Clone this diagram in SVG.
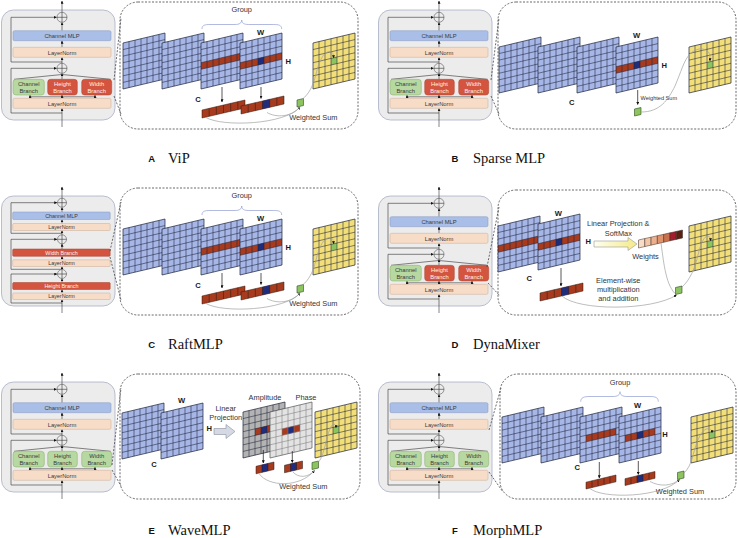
<svg xmlns="http://www.w3.org/2000/svg" xmlns:xlink="http://www.w3.org/1999/xlink" width="738" height="538" viewBox="0 0 738 538">
<style>
.gb{fill:#ececec;stroke:#a9aec6;stroke-width:0.8}
.ln{fill:none;stroke:#333;stroke-width:0.6}
.op{fill:#ececec;stroke:#555;stroke-width:0.6}
.mlp{fill:#a9bfe7;stroke:#8797bd;stroke-width:0.5}
.lno{fill:#f7dcc7;stroke:#c8ac95;stroke-width:0.5}
.gbr{fill:#b7d8a0;stroke:#86ad6b;stroke-width:0.5}
.rbr{fill:#d4553f;stroke:#a9402d;stroke-width:0.5}
.bt{font-family:"Liberation Sans",Arial,sans-serif;font-size:5.8px;fill:#3a3a3a;text-anchor:middle}
.bts{font-size:5.4px}
.w{fill:#fff0ea}
.dash{fill:none;stroke:#444;stroke-width:0.8;stroke-dasharray:2 1.5}
.fb{fill:#a6b6e6}
.fy{fill:#f3df7a}
.fr{fill:#a83a1e}
.fn{fill:#1f2d7b}
.fg{fill:#8cc460}
.gs{fill:#8cc460;stroke:#2f4a1f;stroke-width:0.6}
.fa{fill:#b3b3b3}
.fp{fill:#e3e3e3}
.gln{fill:none;stroke:#1d2238;stroke-width:0.55}
.glg{fill:none;stroke:#7a7a7a;stroke-width:0.55}
.ol{fill:none;stroke:#1d2238;stroke-width:0.7}
.olg{fill:none;stroke:#555;stroke-width:0.7}
.bk{stroke:#2a1a10;stroke-width:0.5}
.cv{fill:none;stroke:#a0a0a0;stroke-width:0.7}
.ar{fill:none;stroke:#111;stroke-width:0.7}
.pt{font-family:"Liberation Sans",Arial,sans-serif;font-size:7.4px;fill:#333;text-anchor:middle}
.lb{font-family:"Liberation Sans",Arial,sans-serif;font-size:7.6px;font-weight:bold;fill:#1a1a1a;text-anchor:middle}
.br{fill:none;stroke:#9ea8d8;stroke-width:0.8}
.cl{font-family:"Liberation Sans",Arial,sans-serif;font-size:9.5px;font-weight:bold;fill:#111;text-anchor:middle}
.cn{font-family:"Liberation Serif","Times New Roman",serif;font-size:14.5px;fill:#111}
</style>
<defs>
<marker id="ah" viewBox="0 0 6 6" refX="5.5" refY="3" markerWidth="3" markerHeight="3" orient="auto" markerUnits="userSpaceOnUse"><path d="M0,0L6,3L0,6z" fill="#111"/></marker>
<linearGradient id="ya" x1="0" y1="0" x2="1" y2="0"><stop offset="0" stop-color="#fffef2"/><stop offset="1" stop-color="#f5ea86"/></linearGradient>
<polygon id="pl" points="0,10 42,0 42,46 0,56"/>
<path id="gr" d="M6,8.57V54.57M12,7.14V53.14M18,5.71V51.71M24,4.29V50.29M30,2.86V48.86M36,1.43V47.43M0,16.57L42,6.57M0,23.14L42,13.14M0,29.71L42,19.71M0,36.29L42,26.29M0,42.86L42,32.86M0,49.43L42,39.43"/>
<polygon id="st" points="0,29.71 42,19.71 42,26.29 0,36.29"/>
<polygon id="st5" points="6,28.29 36,21.14 36,27.71 6,34.86"/>
<polygon id="st3" points="12,26.86 30,22.57 30,29.14 12,33.43"/>
<polygon id="cc" points="18,25.43 24,24 24,30.57 18,32"/>
<g id="pB"><use href="#pl" class="fb"/><use href="#gr" class="gln"/><use href="#pl" class="ol"/></g>
<g id="pBs"><use href="#pl" class="fb"/><use href="#st" class="fr"/><use href="#gr" class="gln"/><use href="#pl" class="ol"/></g>
<g id="pBsc"><use href="#pl" class="fb"/><use href="#st" class="fr"/><use href="#cc" class="fn"/><use href="#gr" class="gln"/><use href="#pl" class="ol"/></g>
<g id="pBm"><use href="#pl" class="fb"/><use href="#st5" class="fr"/><use href="#gr" class="gln"/><use href="#pl" class="ol"/></g>
<g id="pBmc"><use href="#pl" class="fb"/><use href="#st5" class="fr"/><use href="#cc" class="fn"/><use href="#gr" class="gln"/><use href="#pl" class="ol"/></g>
<g id="pY"><use href="#pl" class="fy"/><use href="#cc" class="fg"/><use href="#gr" class="gln"/><use href="#pl" class="ol"/></g>
<g id="pA"><use href="#pl" class="fa"/><use href="#st3" class="fr"/><use href="#cc" class="fn"/><use href="#gr" class="gln"/><use href="#pl" class="ol"/></g>
<g id="pP"><use href="#pl" class="fp"/><use href="#st3" class="fr"/><use href="#cc" class="fn"/><use href="#gr" class="glg"/><use href="#pl" class="olg"/></g>
<g id="bar6"><polygon class="fr bk" points="0,10 43,0 43,8 0,18"/><path class="bk" d="M7.17,8.33V16.33M14.33,6.67V14.67M21.5,5V13M28.67,3.33V11.33M35.83,1.67V9.67"/></g>
<g id="bar6c"><polygon class="fr bk" points="0,10 43,0 43,8 0,18"/><polygon class="fn" points="21.5,5 28.67,3.33 28.67,11.33 21.5,13"/><path class="bk" d="M7.17,8.33V16.33M14.33,6.67V14.67M21.5,5V13M28.67,3.33V11.33M35.83,1.67V9.67"/></g>
<g id="bar5"><polygon class="fr bk" points="0,7.2 30,0 30,6.8 0,14"/><path class="bk" d="M6,5.76V12.56M12,4.32V11.12M18,2.88V9.68M24,1.44V8.24"/></g>
<g id="bar5c"><polygon class="fr bk" points="0,7.2 30,0 30,6.8 0,14"/><polygon class="fn" points="12,4.32 18,2.88 18,9.68 12,11.12"/><path class="bk" d="M6,5.76V12.56M12,4.32V11.12M18,2.88V9.68M24,1.44V8.24"/></g>
<g id="bar3"><polygon class="fr bk" points="0,4.3 18,0 18,7.5 0,11.8"/><polygon class="fn" points="6,2.87 12,1.43 12,8.93 6,10.37"/><path class="bk" d="M6,2.87V10.37M12,1.43V8.93"/></g>
<polygon id="gsq" points="0,1.5 6.5,0 6.5,7 0,8.5"/>
</defs>
<rect width="738" height="538" fill="#ffffff"/>

<!-- ============ BLOCKS ============ -->
<g id="blockA">
<rect class="gb" x="1.5" y="10" width="113.5" height="110" rx="12"/>
<path class="ln" d="M62,62H11V17.3H56.5" marker-end="url(#ah)"/>
<path class="ln" d="M62,113H11V68.3H56.5" marker-end="url(#ah)"/>
<path class="ln" d="M62,12.3V1" marker-end="url(#ah)"/>
<path class="ln" d="M62,30.7V22.5" marker-end="url(#ah)"/>
<path class="ln" d="M62,47.3V40.9" marker-end="url(#ah)"/>
<path class="ln" d="M62,63.3V57.5" marker-end="url(#ah)"/>
<path class="ln" d="M62,79.3V73.5" marker-end="url(#ah)"/>
<path class="ln" d="M14,79.3L62,74.5L110.7,79.3"/>
<path class="ln" d="M62,127V108.5" marker-end="url(#ah)"/>
<path class="ln" d="M30,96.8L95,96.8"/>
<path class="ln" d="M30,98.3V95.2" marker-end="url(#ah)"/>
<path class="ln" d="M62,98.3V95.2" marker-end="url(#ah)"/>
<path class="ln" d="M95,98.3V95.2" marker-end="url(#ah)"/>
<circle class="op" cx="62" cy="17.3" r="5"/><path class="ln" d="M57,17.3H67M62,12.3V22.3"/>
<circle class="op" cx="62" cy="68.3" r="5"/><path class="ln" d="M57,68.3H67M62,63.3V73.3"/>
<rect class="mlp" x="13" y="30.7" width="98" height="10" rx="1.5"/><text class="bt" x="62" y="37.9">Channel MLP</text>
<rect class="lno" x="13" y="47.3" width="98" height="10" rx="1.5"/><text class="bt" x="62" y="54.5">LayerNorm</text>
<rect class="gbr" x="13" y="79.3" width="31.3" height="15.7" rx="3"/><text class="bt" x="28.7" y="86">Channel</text><text class="bt" x="28.7" y="92.8">Branch</text>
<rect class="rbr" x="47.7" y="79.3" width="29.6" height="15.7" rx="3"/><text class="bt w" x="62.5" y="86">Height</text><text class="bt w" x="62.5" y="92.8">Branch</text>
<rect class="rbr" x="81.7" y="79.3" width="30" height="15.7" rx="3"/><text class="bt w" x="96.7" y="86">Width</text><text class="bt w" x="96.7" y="92.8">Branch</text>
<rect class="lno" x="13" y="98.3" width="98" height="10" rx="1.5"/><text class="bt" x="62" y="105.5">LayerNorm</text>
</g>

<g id="blockB" transform="translate(377,0)">
<rect class="gb" x="1.5" y="10" width="113.5" height="110" rx="12"/>
<path class="ln" d="M62,62H11V17.3H56.5" marker-end="url(#ah)"/>
<path class="ln" d="M62,113H11V68.3H56.5" marker-end="url(#ah)"/>
<path class="ln" d="M62,12.3V1" marker-end="url(#ah)"/>
<path class="ln" d="M62,30.7V22.5" marker-end="url(#ah)"/>
<path class="ln" d="M62,47.3V40.9" marker-end="url(#ah)"/>
<path class="ln" d="M62,63.3V57.5" marker-end="url(#ah)"/>
<path class="ln" d="M62,79.3V73.5" marker-end="url(#ah)"/>
<path class="ln" d="M14,79.3L62,74.5L110.7,79.3"/>
<path class="ln" d="M62,127V108.5" marker-end="url(#ah)"/>
<path class="ln" d="M30,96.8L95,96.8"/>
<path class="ln" d="M30,98.3V95.2" marker-end="url(#ah)"/>
<path class="ln" d="M62,98.3V95.2" marker-end="url(#ah)"/>
<path class="ln" d="M95,98.3V95.2" marker-end="url(#ah)"/>
<circle class="op" cx="62" cy="17.3" r="5"/><path class="ln" d="M57,17.3H67M62,12.3V22.3"/>
<circle class="op" cx="62" cy="68.3" r="5"/><path class="ln" d="M57,68.3H67M62,63.3V73.3"/>
<rect class="mlp" x="13" y="30.7" width="98" height="10" rx="1.5"/><text class="bt" x="62" y="37.9">Channel MLP</text>
<rect class="lno" x="13" y="47.3" width="98" height="10" rx="1.5"/><text class="bt" x="62" y="54.5">LayerNorm</text>
<rect class="gbr" x="13" y="79.3" width="31.3" height="15.7" rx="3"/><text class="bt" x="28.7" y="86">Channel</text><text class="bt" x="28.7" y="92.8">Branch</text>
<rect class="rbr" x="47.7" y="79.3" width="29.6" height="15.7" rx="3"/><text class="bt w" x="62.5" y="86">Height</text><text class="bt w" x="62.5" y="92.8">Branch</text>
<rect class="rbr" x="81.7" y="79.3" width="30" height="15.7" rx="3"/><text class="bt w" x="96.7" y="86">Width</text><text class="bt w" x="96.7" y="92.8">Branch</text>
<rect class="lno" x="13" y="98.3" width="98" height="10" rx="1.5"/><text class="bt" x="62" y="105.5">LayerNorm</text>
</g>

<g id="blockC" transform="translate(0,186)">
<rect class="gb" x="1.5" y="10" width="113.5" height="110" rx="12"/>
<path class="ln" d="M62,47.3H11V16.7H57" marker-end="url(#ah)"/>
<path class="ln" d="M62,83.3H11V53.3H57" marker-end="url(#ah)"/>
<path class="ln" d="M62,117H11V88H57" marker-end="url(#ah)"/>
<path class="ln" d="M62,12.2V1" marker-end="url(#ah)"/>
<path class="ln" d="M62,26V21.4" marker-end="url(#ah)"/>
<path class="ln" d="M62,37.5V33.7" marker-end="url(#ah)"/>
<path class="ln" d="M62,48.8V44.7" marker-end="url(#ah)"/>
<path class="ln" d="M62,63V58" marker-end="url(#ah)"/>
<path class="ln" d="M62,73.8V70.5" marker-end="url(#ah)"/>
<path class="ln" d="M62,83.5V80.7" marker-end="url(#ah)"/>
<path class="ln" d="M62,96.5V92.7" marker-end="url(#ah)"/>
<path class="ln" d="M62,107V103.7" marker-end="url(#ah)"/>
<path class="ln" d="M62,127V113.7" marker-end="url(#ah)"/>
<circle class="op" cx="62" cy="16.7" r="4.5"/><path class="ln" d="M57.5,16.7H66.5M62,12.2V21.2"/>
<circle class="op" cx="62" cy="53.3" r="4.5"/><path class="ln" d="M57.5,53.3H66.5M62,48.8V57.8"/>
<circle class="op" cx="62" cy="88" r="4.5"/><path class="ln" d="M57.5,88H66.5M62,83.5V92.5"/>
<rect class="mlp" x="12.7" y="26" width="97.5" height="7.5" rx="1"/><text class="bt bts" x="61.5" y="31.8">Channel MLP</text>
<rect class="lno" x="12.7" y="37.5" width="97.5" height="7" rx="1"/><text class="bt bts" x="61.5" y="42.9">LayerNorm</text>
<rect class="rbr" x="12.7" y="63" width="97.5" height="7.3" rx="1"/><text class="bt bts w" x="61.5" y="68.7">Width Branch</text>
<rect class="lno" x="12.7" y="73.8" width="97.5" height="6.7" rx="1"/><text class="bt bts" x="61.5" y="79.1">LayerNorm</text>
<rect class="rbr" x="12.7" y="96.5" width="97.5" height="7" rx="1"/><text class="bt bts w" x="61.5" y="102">Height Branch</text>
<rect class="lno" x="12.7" y="107" width="97.5" height="6.5" rx="1"/><text class="bt bts" x="61.5" y="112.3">LayerNorm</text>
</g>

<g id="blockD" transform="translate(377,186)">
<rect class="gb" x="1.5" y="10" width="113.5" height="110" rx="12"/>
<path class="ln" d="M62,62H11V17.3H56.5" marker-end="url(#ah)"/>
<path class="ln" d="M62,113H11V68.3H56.5" marker-end="url(#ah)"/>
<path class="ln" d="M62,12.3V1" marker-end="url(#ah)"/>
<path class="ln" d="M62,30.7V22.5" marker-end="url(#ah)"/>
<path class="ln" d="M62,47.3V40.9" marker-end="url(#ah)"/>
<path class="ln" d="M62,63.3V57.5" marker-end="url(#ah)"/>
<path class="ln" d="M62,79.3V73.5" marker-end="url(#ah)"/>
<path class="ln" d="M14,79.3L62,74.5L110.7,79.3"/>
<path class="ln" d="M62,127V108.5" marker-end="url(#ah)"/>
<path class="ln" d="M30,96.8L95,96.8"/>
<path class="ln" d="M30,98.3V95.2" marker-end="url(#ah)"/>
<path class="ln" d="M62,98.3V95.2" marker-end="url(#ah)"/>
<path class="ln" d="M95,98.3V95.2" marker-end="url(#ah)"/>
<circle class="op" cx="62" cy="17.3" r="5"/><path class="ln" d="M57,17.3H67M62,12.3V22.3"/>
<circle class="op" cx="62" cy="68.3" r="5"/><path class="ln" d="M57,68.3H67M62,63.3V73.3"/>
<rect class="mlp" x="13" y="30.7" width="98" height="10" rx="1.5"/><text class="bt" x="62" y="37.9">Channel MLP</text>
<rect class="lno" x="13" y="47.3" width="98" height="10" rx="1.5"/><text class="bt" x="62" y="54.5">LayerNorm</text>
<rect class="gbr" x="13" y="79.3" width="31.3" height="15.7" rx="3"/><text class="bt" x="28.7" y="86">Channel</text><text class="bt" x="28.7" y="92.8">Branch</text>
<rect class="rbr" x="47.7" y="79.3" width="29.6" height="15.7" rx="3"/><text class="bt w" x="62.5" y="86">Height</text><text class="bt w" x="62.5" y="92.8">Branch</text>
<rect class="rbr" x="81.7" y="79.3" width="30" height="15.7" rx="3"/><text class="bt w" x="96.7" y="86">Width</text><text class="bt w" x="96.7" y="92.8">Branch</text>
<rect class="lno" x="13" y="98.3" width="98" height="10" rx="1.5"/><text class="bt" x="62" y="105.5">LayerNorm</text>
</g>

<g id="blockE" transform="translate(0,372)">
<rect class="gb" x="1.5" y="10" width="113.5" height="110" rx="12"/>
<path class="ln" d="M62,62H11V17.3H56.5" marker-end="url(#ah)"/>
<path class="ln" d="M62,113H11V68.3H56.5" marker-end="url(#ah)"/>
<path class="ln" d="M62,12.3V1" marker-end="url(#ah)"/>
<path class="ln" d="M62,30.7V22.5" marker-end="url(#ah)"/>
<path class="ln" d="M62,47.3V40.9" marker-end="url(#ah)"/>
<path class="ln" d="M62,63.3V57.5" marker-end="url(#ah)"/>
<path class="ln" d="M62,79.3V73.5" marker-end="url(#ah)"/>
<path class="ln" d="M14,79.3L62,74.5L110.7,79.3"/>
<path class="ln" d="M62,127V108.5" marker-end="url(#ah)"/>
<path class="ln" d="M30,96.8L95,96.8"/>
<path class="ln" d="M30,98.3V95.2" marker-end="url(#ah)"/>
<path class="ln" d="M62,98.3V95.2" marker-end="url(#ah)"/>
<path class="ln" d="M95,98.3V95.2" marker-end="url(#ah)"/>
<circle class="op" cx="62" cy="17.3" r="5"/><path class="ln" d="M57,17.3H67M62,12.3V22.3"/>
<circle class="op" cx="62" cy="68.3" r="5"/><path class="ln" d="M57,68.3H67M62,63.3V73.3"/>
<rect class="mlp" x="13" y="30.7" width="98" height="10" rx="1.5"/><text class="bt" x="62" y="37.9">Channel MLP</text>
<rect class="lno" x="13" y="47.3" width="98" height="10" rx="1.5"/><text class="bt" x="62" y="54.5">LayerNorm</text>
<rect class="gbr" x="13" y="79.3" width="31.3" height="15.7" rx="3"/><text class="bt" x="28.7" y="86">Channel</text><text class="bt" x="28.7" y="92.8">Branch</text>
<rect class="gbr" x="47.7" y="79.3" width="29.6" height="15.7" rx="3"/><text class="bt" x="62.5" y="86">Height</text><text class="bt" x="62.5" y="92.8">Branch</text>
<rect class="gbr" x="81.7" y="79.3" width="30" height="15.7" rx="3"/><text class="bt" x="96.7" y="86">Width</text><text class="bt" x="96.7" y="92.8">Branch</text>
<rect class="lno" x="13" y="98.3" width="98" height="10" rx="1.5"/><text class="bt" x="62" y="105.5">LayerNorm</text>
</g>

<g id="blockF" transform="translate(377,372)">
<rect class="gb" x="1.5" y="10" width="113.5" height="110" rx="12"/>
<path class="ln" d="M62,62H11V17.3H56.5" marker-end="url(#ah)"/>
<path class="ln" d="M62,113H11V68.3H56.5" marker-end="url(#ah)"/>
<path class="ln" d="M62,12.3V1" marker-end="url(#ah)"/>
<path class="ln" d="M62,30.7V22.5" marker-end="url(#ah)"/>
<path class="ln" d="M62,47.3V40.9" marker-end="url(#ah)"/>
<path class="ln" d="M62,63.3V57.5" marker-end="url(#ah)"/>
<path class="ln" d="M62,79.3V73.5" marker-end="url(#ah)"/>
<path class="ln" d="M14,79.3L62,74.5L110.7,79.3"/>
<path class="ln" d="M62,127V108.5" marker-end="url(#ah)"/>
<path class="ln" d="M30,96.8L95,96.8"/>
<path class="ln" d="M30,98.3V95.2" marker-end="url(#ah)"/>
<path class="ln" d="M62,98.3V95.2" marker-end="url(#ah)"/>
<path class="ln" d="M95,98.3V95.2" marker-end="url(#ah)"/>
<circle class="op" cx="62" cy="17.3" r="5"/><path class="ln" d="M57,17.3H67M62,12.3V22.3"/>
<circle class="op" cx="62" cy="68.3" r="5"/><path class="ln" d="M57,68.3H67M62,63.3V73.3"/>
<rect class="mlp" x="13" y="30.7" width="98" height="10" rx="1.5"/><text class="bt" x="62" y="37.9">Channel MLP</text>
<rect class="lno" x="13" y="47.3" width="98" height="10" rx="1.5"/><text class="bt" x="62" y="54.5">LayerNorm</text>
<rect class="gbr" x="13" y="79.3" width="31.3" height="15.7" rx="3"/><text class="bt" x="28.7" y="86">Channel</text><text class="bt" x="28.7" y="92.8">Branch</text>
<rect class="gbr" x="47.7" y="79.3" width="29.6" height="15.7" rx="3"/><text class="bt" x="62.5" y="86">Height</text><text class="bt" x="62.5" y="92.8">Branch</text>
<rect class="gbr" x="81.7" y="79.3" width="30" height="15.7" rx="3"/><text class="bt" x="96.7" y="86">Width</text><text class="bt" x="96.7" y="92.8">Branch</text>
<rect class="lno" x="13" y="98.3" width="98" height="10" rx="1.5"/><text class="bt" x="62" y="105.5">LayerNorm</text>
</g>

<!-- ============ ZOOM LINES ============ -->
<g id="zoomlines">
<path class="dash" d="M114,80L121,18M114,96L121,114"/>
<path class="dash" d="M491,80L499,18M491,96L499,114"/>
<path class="dash" d="M110,251L121,202M110,257L121,300"/>
<path class="dash" d="M487,267L499,207M488,283L500,296"/>
<path class="dash" d="M112,465L121,388M112,470L121,486"/>
<path class="dash" d="M489,430L501,388M489,472L503,492"/>
</g>

<!-- ============ PANEL A (ViP) ============ -->
<g id="panelA">
<rect class="dash" x="120" y="2" width="238" height="127" rx="18"/>
<use href="#pB" transform="translate(123,33)"/>
<use href="#pB" transform="translate(162,33)"/>
<use href="#pBs" transform="translate(201,33)"/>
<use href="#pBsc" transform="translate(240,33)"/>
<use href="#pY" transform="translate(313,33)"/>
<path class="br" d="M202,29C202,25 205,24.5 210,24.5L235,24.5C239.5,24.5 241.7,23 241.7,20C241.7,23 243.9,24.5 248.4,24.5L273.4,24.5C278.4,24.5 281.7,25 281.7,29"/>
<text class="pt" x="241.7" y="11.8">Group</text>
<text class="lb" x="260.7" y="35">W</text>
<text class="lb" x="288.3" y="64.3">H</text>
<text class="lb" x="198" y="101.7">C</text>
<path class="ar" d="M222,87V102" marker-end="url(#ah)"/>
<path class="ar" d="M261,87V98.5" marker-end="url(#ah)"/>
<use href="#bar6" transform="translate(202,100)"/>
<use href="#bar6c" transform="translate(241,96)"/>
<path class="cv" d="M206,117.5C222,127 285,125 300,107" marker-end="url(#ah)"/>
<path class="cv" d="M267,112.5C276,118 292,117 300,107"/>
<use href="#gsq" class="gs" transform="translate(297,98.5)"/>
<path class="cv" d="M302,99.5C309,94 313,86 316,74C319,61 324,51 330,51.5C333,52 333.5,54 333.5,58" marker-end="url(#ah)"/>
<text class="pt" x="313.3" y="120">Weighted Sum</text>
</g>

<!-- ============ PANEL B (Sparse MLP) ============ -->
<g id="panelB">
<rect class="dash" x="498" y="2" width="238" height="127" rx="18"/>
<use href="#pB" transform="translate(499,37)"/>
<use href="#pB" transform="translate(538,37)"/>
<use href="#pB" transform="translate(577,37)"/>
<use href="#pBsc" transform="translate(616,37)"/>
<use href="#pY" transform="translate(689,37)"/>
<text class="lb" x="636.7" y="38.3">W</text>
<text class="lb" x="664.3" y="68.3">H</text>
<text class="lb" x="571.7" y="105">C</text>
<path class="ar" d="M637.7,90V104.5" marker-end="url(#ah)"/>
<text class="pt" x="640.5" y="99.5" style="text-anchor:start;font-size:5.6px">Weighted Sum</text>
<use href="#gsq" class="gs" transform="translate(634.5,107.5)"/>
<path class="cv" d="M641,112C660,112 668,100 675,86C681,72 684,60 690,54C697,47 705,48 708.5,52C710,54 710,57 710,61" marker-end="url(#ah)"/>
</g>

<!-- ============ PANEL C (RaftMLP) ============ -->
<g id="panelC" transform="translate(0,186)">
<rect class="dash" x="120" y="2" width="238" height="127" rx="18"/>
<use href="#pB" transform="translate(123,33)"/>
<use href="#pB" transform="translate(162,33)"/>
<use href="#pBs" transform="translate(201,33)"/>
<use href="#pBsc" transform="translate(240,33)"/>
<use href="#pY" transform="translate(313,33)"/>
<path class="br" d="M202,29C202,25 205,24.5 210,24.5L235,24.5C239.5,24.5 241.7,23 241.7,20C241.7,23 243.9,24.5 248.4,24.5L273.4,24.5C278.4,24.5 281.7,25 281.7,29"/>
<text class="pt" x="241.7" y="11.8">Group</text>
<text class="lb" x="260.7" y="35">W</text>
<text class="lb" x="288.3" y="64.3">H</text>
<text class="lb" x="198" y="101.7">C</text>
<path class="ar" d="M222,87V102" marker-end="url(#ah)"/>
<path class="ar" d="M261,87V98.5" marker-end="url(#ah)"/>
<use href="#bar6" transform="translate(202,100)"/>
<use href="#bar6c" transform="translate(241,96)"/>
<path class="cv" d="M206,117.5C222,127 285,125 300,107" marker-end="url(#ah)"/>
<path class="cv" d="M267,112.5C276,118 292,117 300,107"/>
<use href="#gsq" class="gs" transform="translate(297,98.5)"/>
<path class="cv" d="M302,99.5C309,94 313,86 316,74C319,61 324,51 330,51.5C333,52 333.5,54 333.5,58" marker-end="url(#ah)"/>
<text class="pt" x="313.3" y="120">Weighted Sum</text>
</g>

<!-- ============ PANEL D (DynaMixer) ============ -->
<g id="panelD">
<rect class="dash" x="498" y="190" width="238" height="125" rx="18"/>
<use href="#pBs" transform="translate(498,216)"/>
<use href="#pBsc" transform="translate(538,214)"/>
<use href="#pY" transform="translate(689,216)"/>
<text class="lb" x="558.3" y="216">W</text>
<text class="lb" x="588.3" y="243.5">H</text>
<text class="lb" x="529.3" y="281.3">C</text>
<polygon points="594,241 628,241 628,237.5 637,244 628,250.5 628,247 594,247" fill="url(#ya)" stroke="#999" stroke-width="0.6"/>
<text class="pt" x="618.3" y="226">Linear Projection &amp;</text>
<text class="pt" x="618.3" y="236">SoftMax</text>
<g id="weights" transform="translate(638.5,230)" stroke="#3a2a20" stroke-width="0.5">
<polygon points="0,10 6.286,8.571 6.286,16.571 0,18" fill="#f9dcc8"/>
<polygon points="6.286,8.571 12.571,7.143 12.571,15.143 6.286,16.571" fill="#f3c6a8"/>
<polygon points="12.571,7.143 18.857,5.714 18.857,13.714 12.571,15.143" fill="#ecb08e"/>
<polygon points="18.857,5.714 25.143,4.286 25.143,12.286 18.857,13.714" fill="#df936f"/>
<polygon points="25.143,4.286 31.429,2.857 31.429,10.857 25.143,12.286" fill="#c8714e"/>
<polygon points="31.429,2.857 37.714,1.429 37.714,9.429 31.429,10.857" fill="#a51d2c"/>
<polygon points="37.714,1.429 44,0 44,8 37.714,9.429" fill="#5a2014"/>
</g>
<text class="pt" x="645.5" y="258.5">Weights</text>
<path class="ar" d="M561,268V286" marker-end="url(#ah)"/>
<use href="#bar6c" transform="translate(540,283)"/>
<text class="pt" x="618.3" y="282.5">Element-wise</text>
<text class="pt" x="618.3" y="291.5">multiplication</text>
<text class="pt" x="618.3" y="300.5">and addition</text>
<path class="cv" d="M562,296C578,311 652,311 676.5,295" marker-end="url(#ah)"/>
<path class="cv" d="M661,243C664,265 666,286 676.5,295"/>
<use href="#gsq" class="gs" transform="translate(675.5,286)"/>
<path class="cv" d="M682,287C690,280 695,268 698,255C701,243 704,236 708,236C710,236.5 710.5,238 710.5,241" marker-end="url(#ah)"/>
</g>

<!-- ============ PANEL E (WaveMLP) ============ -->
<g id="panelE">
<rect class="dash" x="120" y="374" width="240" height="125" rx="18"/>
<use href="#pB" transform="translate(122,403)"/>
<use href="#pB" transform="translate(161,403)"/>
<text class="lb" x="181.7" y="402.6">W</text>
<text class="lb" x="209.3" y="431">H</text>
<text class="lb" x="154" y="467">C</text>
<polygon points="214,428.5 226,428.5 226,424.5 235,431.5 226,438.5 226,434.5 214,434.5" fill="#d5d9e3" stroke="#8a8f9c" stroke-width="0.6"/>
<text class="pt" x="225.7" y="410.8">Linear</text>
<text class="pt" x="225.7" y="420.2">Projection</text>
<use href="#pA" transform="translate(243,402)"/>
<use href="#pP" transform="translate(270,402)"/>
<text class="pt" x="265" y="400.3">Amplitude</text>
<text class="pt" x="306" y="400.3">Phase</text>
<use href="#pY" transform="translate(315,402)"/>
<path class="ar" d="M263.3,450V463" marker-end="url(#ah)"/>
<path class="ar" d="M292.3,451V462.5" marker-end="url(#ah)"/>
<use href="#bar3" transform="translate(256,462)"/>
<use href="#bar3" transform="translate(284.5,461)"/>
<path class="cv" d="M259,473.5C268,487 300,488 314.5,470.5" marker-end="url(#ah)"/>
<path class="cv" d="M293,472C298,478 308,478 314.5,470.5"/>
<use href="#gsq" class="gs" transform="translate(312,461)"/>
<path class="cv" d="M318.5,462C322,458 324,450 326,442C328,433 331,424 334,424C335.5,424.5 336,426 336,428" marker-end="url(#ah)"/>
<text class="pt" x="303.3" y="488.5">Weighted Sum</text>
</g>

<!-- ============ PANEL F (MorphMLP) ============ -->
<g id="panelF">
<rect class="dash" x="500" y="374" width="236" height="125" rx="18"/>
<use href="#pB" transform="translate(502,407)"/>
<use href="#pB" transform="translate(541,407)"/>
<use href="#pBm" transform="translate(580,407)"/>
<use href="#pBmc" transform="translate(619,407)"/>
<use href="#pY" transform="translate(691,407)"/>
<path class="br" d="M580.7,401.7C580.7,397.5 584,396.5 590,396.5L613,396.5C617.5,396.5 620,395 620,391.7C620,395 622.5,396.5 627,396.5L650,396.5C655.5,396.5 658.3,397.5 658.3,401.7"/>
<text class="pt" x="620" y="384.8">Group</text>
<text class="lb" x="637.7" y="408.3">W</text>
<text class="lb" x="665" y="437">H</text>
<text class="lb" x="577.3" y="470.3">C</text>
<path class="ar" d="M599.3,462V478" marker-end="url(#ah)"/>
<path class="ar" d="M638.3,461V474.5" marker-end="url(#ah)"/>
<use href="#bar5" transform="translate(586,475)"/>
<use href="#bar5c" transform="translate(625,471.5)"/>
<path class="cv" d="M590,488.5C602,499 662,498 679.5,479.5" marker-end="url(#ah)"/>
<path class="cv" d="M650,481.5C660,487 672,486 679.5,479.5"/>
<use href="#gsq" class="gs" transform="translate(677.5,471)"/>
<path class="cv" d="M684,473C688,469 690,465 692,459C695,448 699,432 706,429C710,428 712,429.5 712,433" marker-end="url(#ah)"/>
<text class="pt" x="680" y="494">Weighted Sum</text>
</g>

<!-- ============ CAPTIONS ============ -->
<g id="captions">
<text class="cl" x="151.7" y="161.5">A</text><text class="cn" x="168" y="163">ViP</text>
<text class="cl" x="455" y="161.5">B</text><text class="cn" x="473" y="163">Sparse MLP</text>
<text class="cl" x="151.7" y="347.5">C</text><text class="cn" x="168" y="349">RaftMLP</text>
<text class="cl" x="455" y="347.5">D</text><text class="cn" x="473" y="349">DynaMixer</text>
<text class="cl" x="151.7" y="533.5">E</text><text class="cn" x="168" y="535">WaveMLP</text>
<text class="cl" x="455" y="533.5">F</text><text class="cn" x="473" y="535">MorphMLP</text>
</g>
</svg>
